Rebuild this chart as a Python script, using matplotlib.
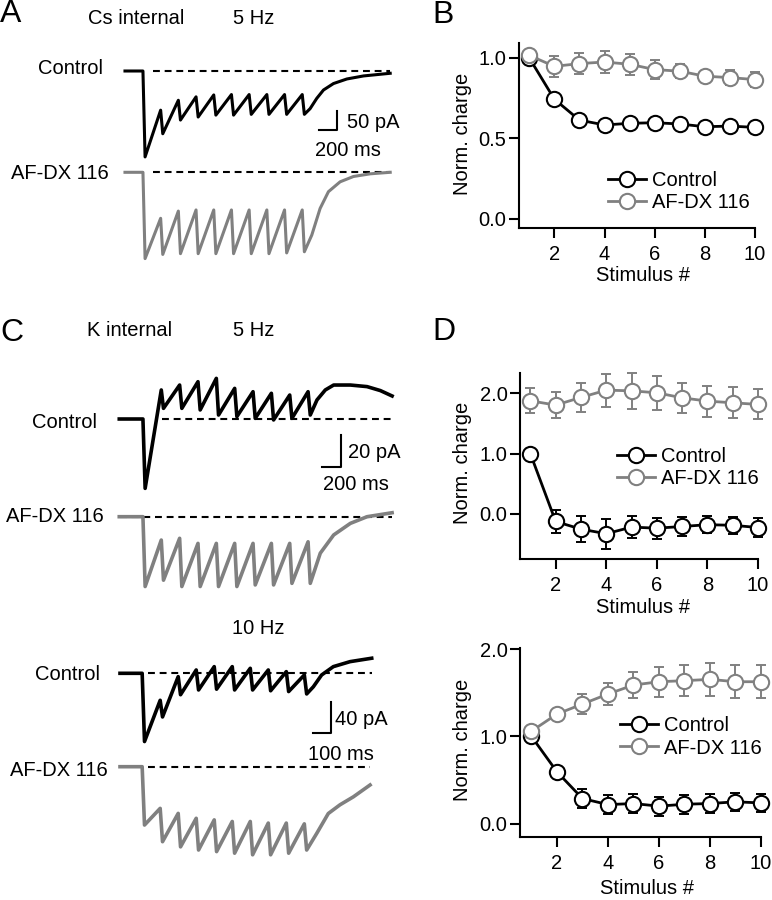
"""
Cs / K internal EPSC trains + normalised charge per stimulus.
"""
import matplotlib
matplotlib.use("Agg")
import matplotlib.pyplot as plt

plt.rcParams["font.family"] = ["Liberation Sans", "DejaVu Sans"]
plt.rcParams["font.size"] = 14.5

W, H = 772, 900
BLACK = "#000000"
GRAY = "#808080"

# ---------------- data: charge vs stimulus number ----------------
stim_no = [1, 2, 3, 4, 5, 6, 7, 8, 9, 10]

b_ctrl = [1.0, 0.744, 0.614, 0.584, 0.594, 0.598, 0.590, 0.573, 0.577, 0.569]
b_ctrl_err = [0.0, 0.02, 0.02, 0.015, 0.015, 0.015, 0.015, 0.015, 0.015, 0.015]
b_afdx = [1.016, 0.948, 0.965, 0.975, 0.961, 0.928, 0.918, 0.887, 0.878, 0.866]
b_afdx_err = [0.02, 0.065, 0.064, 0.068, 0.066, 0.06, 0.045, 0.035, 0.045, 0.045]

d5_ctrl = [1.0, -0.127, -0.254, -0.33, -0.22, -0.238, -0.21, -0.18, -0.19, -0.227]
d5_ctrl_err = [0.0, 0.19, 0.215, 0.25, 0.185, 0.175, 0.166, 0.14, 0.14, 0.15]
d5_afdx = [1.878, 1.807, 1.934, 2.055, 2.044, 2.011, 1.928, 1.873, 1.845, 1.818]
d5_afdx_err = [0.21, 0.21, 0.235, 0.276, 0.295, 0.285, 0.25, 0.257, 0.257, 0.25]

d10_ctrl = [1.0, 0.594, 0.287, 0.218, 0.23, 0.2, 0.222, 0.23, 0.25, 0.237]
d10_ctrl_err = [0.0, 0.05, 0.11, 0.105, 0.105, 0.11, 0.11, 0.105, 0.105, 0.1]
d10_afdx = [1.061, 1.257, 1.372, 1.487, 1.59, 1.628, 1.64, 1.655, 1.628, 1.628]
d10_afdx_err = [0.03, 0.05, 0.12, 0.13, 0.153, 0.172, 0.178, 0.186, 0.188, 0.188]

# ---------------- data: current traces (ms, pA) ----------------
stims_5hz = [0, 200, 400, 600, 800, 1000, 1200, 1400, 1600, 1800]
stims_10hz = [0, 100, 200, 300, 400, 500, 600, 700, 800, 900]

# A, Cs internal 5 Hz: current just before / at trough after each stimulus
a_ctrl_pre = [0, -103, -77, -68, -63, -62, -62, -62, -62, -62]
a_ctrl_post = [-226, -165, -129, -121, -116, -116, -114, -114, -114, -114]
a_ctrl_tail_t = [1885, 1960, 2036, 2149, 2300, 2488, 2790]
a_ctrl_tail_i = [-99, -72, -50, -33, -21, -13, -6]

a_afdx_pre = [0, -121, -102, -99, -99, -99, -99, -99, -99, -99]
a_afdx_post = [-227, -216, -214, -214, -214, -214, -214, -214, -212, -209]
a_afdx_tail_t = [1904, 1998, 2092, 2224, 2375, 2564, 2790]
a_afdx_tail_i = [-165, -95, -51, -25, -11, -4, 0]

# C, K internal 5 Hz
c5_ctrl_pre = [0, 18.3, 21.4, 23.5, 25.6, 19.3, 17.2, 16.2, 15.1, 17.2]
c5_ctrl_post = [-43.7, 6.7, 6.7, 5.7, 2.5, 1.5, 0.4, -0.6, 0.4, 2.5]
c5_ctrl_tail_t = [1893, 1984, 2075, 2257, 2439, 2584, 2712]
c5_ctrl_tail_i = [12, 18.3, 21.4, 21.4, 20.4, 17.9, 14.5]

c5_afdx_pre = [0, -14.7, -13.6, -16.8, -16.8, -16.8, -16.8, -16.8, -16.8, -15.8]
c5_afdx_post = [-44, -40, -44, -44, -44, -44, -43, -43, -42, -42]
c5_afdx_tail_t = [1929, 2075, 2257, 2439, 2712]
c5_afdx_tail_i = [-23, -11.5, -4.2, 0, 2.5]

# C, K internal 10 Hz
c10_ctrl_pre = [0, -34, -4.2, 4.2, 8.4, 8.4, 6.3, 4.2, 2.1, -2.1]
c10_ctrl_post = [-86, -55, -27, -21, -20, -21, -21, -22, -23, -26]
c10_ctrl_tail_t = [947, 993, 1058, 1151, 1271]
c10_ctrl_tail_i = [-17, -2.1, 8.4, 14.7, 19]

c10_afdx_pre = [0, -52.5, -58.8, -65, -67, -69, -69, -71, -71, -72]
c10_afdx_post = [-73.5, -94.5, -101, -105, -107, -109, -111, -111, -109, -105]
c10_afdx_tail_t = [966, 1030, 1095, 1169, 1262]
c10_afdx_tail_i = [-84, -59, -48, -38, -23]


fig = plt.figure(figsize=(W / 100, H / 100), dpi=100)


def fx(x):
    return x / W


def fy(y):
    return 1 - y / H


def trace_axes(box, stim_px, base_px, ms_px, pa_px):
    """Invisible axes whose data units are ms / pA at the given pixel scale."""
    l, r, t, b = box
    ax = fig.add_axes([l / W, 1 - b / H, (r - l) / W, (b - t) / H])
    ax.set_xlim((l - stim_px) * ms_px, (r - stim_px) * ms_px)
    ax.set_ylim(-(b - base_px) * pa_px, (base_px - t) * pa_px)
    ax.axis("off")
    return ax


def build_trace(stims, pre, post, tail_t, tail_i, t0, rise, fall):
    ts, ys = [t0], [0]
    for s, p, q in zip(stims, pre, post):
        ts += [s - rise, s + fall]
        ys += [p, q]
    return ts + tail_t, ys + tail_i


def draw_trace(ax, stims, pre, post, tail_t, tail_i, t0, color, lw,
               dash_from, rise=4, fall=15):
    ts, ys = build_trace(stims, pre, post, tail_t, tail_i, t0, rise, fall)
    ax.plot([dash_from, tail_t[-1]], [0, 0], color="black", lw=1.5,
            dashes=(3.3, 2.3), zorder=1)
    ax.plot(ts, ys, color=color, lw=lw, zorder=2, solid_joinstyle="round")


def scale_bar(ax, t_corner, i_corner, dt, di):
    ax.plot([t_corner - dt, t_corner, t_corner],
            [i_corner, i_corner, i_corner + di],
            color="black", lw=1.5, clip_on=False)


# ---------------- A ----------------
ax = trace_axes((110, 400, 55, 165), 143.3, 71, 11.3, 2.63)
draw_trace(ax, stims_5hz, a_ctrl_pre, a_ctrl_post, a_ctrl_tail_t,
           a_ctrl_tail_i, -207, BLACK, 2.2, 110, fall=20)
scale_bar(ax, 2185, -155, 200, 50)
ax = trace_axes((110, 400, 165, 265), 143.3, 172.3, 11.3, 2.63)
draw_trace(ax, stims_5hz, a_afdx_pre, a_afdx_post, a_afdx_tail_t,
           a_afdx_tail_i, -207, GRAY, 2.2, 110, fall=20)

# ---------------- C 5 Hz ----------------
ax = trace_axes((110, 400, 370, 505), 143.3, 419, 10.9, 0.63)
draw_trace(ax, stims_5hz, c5_ctrl_pre, c5_ctrl_post, c5_ctrl_tail_t,
           c5_ctrl_tail_i, -262, BLACK, 2.6, 200, fall=20)
scale_bar(ax, 2152, -30, 200, 20)
ax = trace_axes((110, 400, 505, 600), 143.3, 516.7, 10.9, 0.63)
draw_trace(ax, stims_5hz, c5_afdx_pre, c5_afdx_post, c5_afdx_tail_t,
           c5_afdx_tail_i, -262, GRAY, 2.6, -250, fall=20)

# ---------------- C 10 Hz ----------------
ax = trace_axes((110, 400, 655, 760), 142.7, 673.3, 5.55, 1.26)
draw_trace(ax, stims_10hz, c10_ctrl_pre, c10_ctrl_post, c10_ctrl_tail_t,
           c10_ctrl_tail_i, -126, BLACK, 2.6, 30, rise=3, fall=10)
scale_bar(ax, 1045, -75.6, 100, 40)
ax = trace_axes((110, 400, 760, 860), 142.7, 766.7, 5.55, 1.26)
draw_trace(ax, stims_10hz, c10_afdx_pre, c10_afdx_post, c10_afdx_tail_t,
           c10_afdx_tail_i, -126, GRAY, 2.6, 30, rise=3, fall=10)


# ---------------- charge panels ----------------
def charge_panel(box, xlim, ylim, yticks, ctrl, ctrl_err, afdx, afdx_err,
                 leg_xy, ylab_xy, xlab_xy):
    l, r, t, b = box
    ax = fig.add_axes([l / W, 1 - b / H, (r - l) / W, (b - t) / H])
    z = 2
    for y, e, c, lab in ((ctrl, ctrl_err, BLACK, "Control"),
                         (afdx, afdx_err, GRAY, "AF-DX 116")):
        ax.errorbar(stim_no, y, yerr=e, fmt="none", ecolor=c, elinewidth=1.4,
                    capsize=3.8, capthick=1.4, clip_on=False, zorder=z)
        ax.plot(stim_no, y, "-o", color=c, mfc="white", mec=c, ms=11,
                mew=1.5, lw=2.0, clip_on=False, zorder=z + 1, label=lab)
        z += 2
    ax.set_xlim(*xlim)
    ax.set_ylim(*ylim)
    ax.set_xticks([2, 4, 6, 8, 10])
    ax.set_yticks(yticks)
    ax.set_yticklabels([f"{v:.1f}" for v in yticks])
    for s in ("top", "right"):
        ax.spines[s].set_visible(False)
    for s in ("left", "bottom"):
        ax.spines[s].set_linewidth(1.5)
    ax.tick_params(axis="both", direction="out", length=7.5, width=1.5)
    ax.tick_params(axis="x", pad=5)
    ax.tick_params(axis="y", pad=1.5)
    ax.set_ylabel("Norm. charge")
    ax.yaxis.set_label_coords(*ylab_xy)
    ax.set_xlabel("Stimulus #")
    ax.xaxis.set_label_coords(*xlab_xy)
    ax.legend(loc="center left", bbox_to_anchor=(fx(leg_xy[0]), fy(leg_xy[1])),
              bbox_transform=fig.transFigure, frameon=False, numpoints=1,
              handlelength=1.9, handletextpad=0.3, borderpad=0,
              labelspacing=0.15, borderaxespad=0)
    return ax


charge_panel((519, 755, 43, 228), (0.59, 10), (-0.056, 1.093), [0.0, 0.5, 1.0],
             b_ctrl, b_ctrl_err, b_afdx, b_afdx_err, (608, 191.5),
             (-0.199, 0.51), (0.525, -0.205))
charge_panel((520, 758, 373, 559), (0.59, 10), (-0.75, 2.34), [0.0, 1.0, 2.0],
             d5_ctrl, d5_ctrl_err, d5_afdx, d5_afdx_err, (617, 467.5),
             (-0.2, 0.516), (0.517, -0.21))
charge_panel((520, 761, 648, 837), (0.55, 10), (-0.154, 2.015), [0.0, 1.0, 2.0],
             d10_ctrl, d10_ctrl_err, d10_afdx, d10_afdx_err, (620, 737),
             (-0.2, 0.513), (0.527, -0.222))

# ---------------- text ----------------
for letter, x, y in (("A", 0, 14), ("B", 432, 15), ("C", 0, 333), ("D", 432, 332)):
    fig.text(fx(x), fy(y), letter, fontsize=23, ha="left", va="center")

fig.text(fx(88), fy(19), "Cs internal", ha="left", va="center")
fig.text(fx(233), fy(19), "5 Hz", ha="left", va="center")
fig.text(fx(87), fy(331), "K internal", ha="left", va="center")
fig.text(fx(233), fy(331), "5 Hz", ha="left", va="center")
fig.text(fx(232), fy(629), "10 Hz", ha="left", va="center")

for label, x, y in (("Control", 103, 68.5), ("AF-DX 116", 109, 173.5),
                    ("Control", 97, 423), ("AF-DX 116", 104, 517),
                    ("Control", 100, 674), ("AF-DX 116", 108, 770)):
    fig.text(fx(x), fy(y), label, ha="right", va="center")

fig.text(fx(347), fy(122.5), "50 pA", ha="left", va="center")
fig.text(fx(347.5), fy(150), "200 ms", ha="center", va="center")
fig.text(fx(348), fy(452.5), "20 pA", ha="left", va="center")
fig.text(fx(356), fy(484.5), "200 ms", ha="center", va="center")
fig.text(fx(335), fy(719.5), "40 pA", ha="left", va="center")
fig.text(fx(341), fy(754.5), "100 ms", ha="center", va="center")

fig.savefig("out.png", dpi=100)
